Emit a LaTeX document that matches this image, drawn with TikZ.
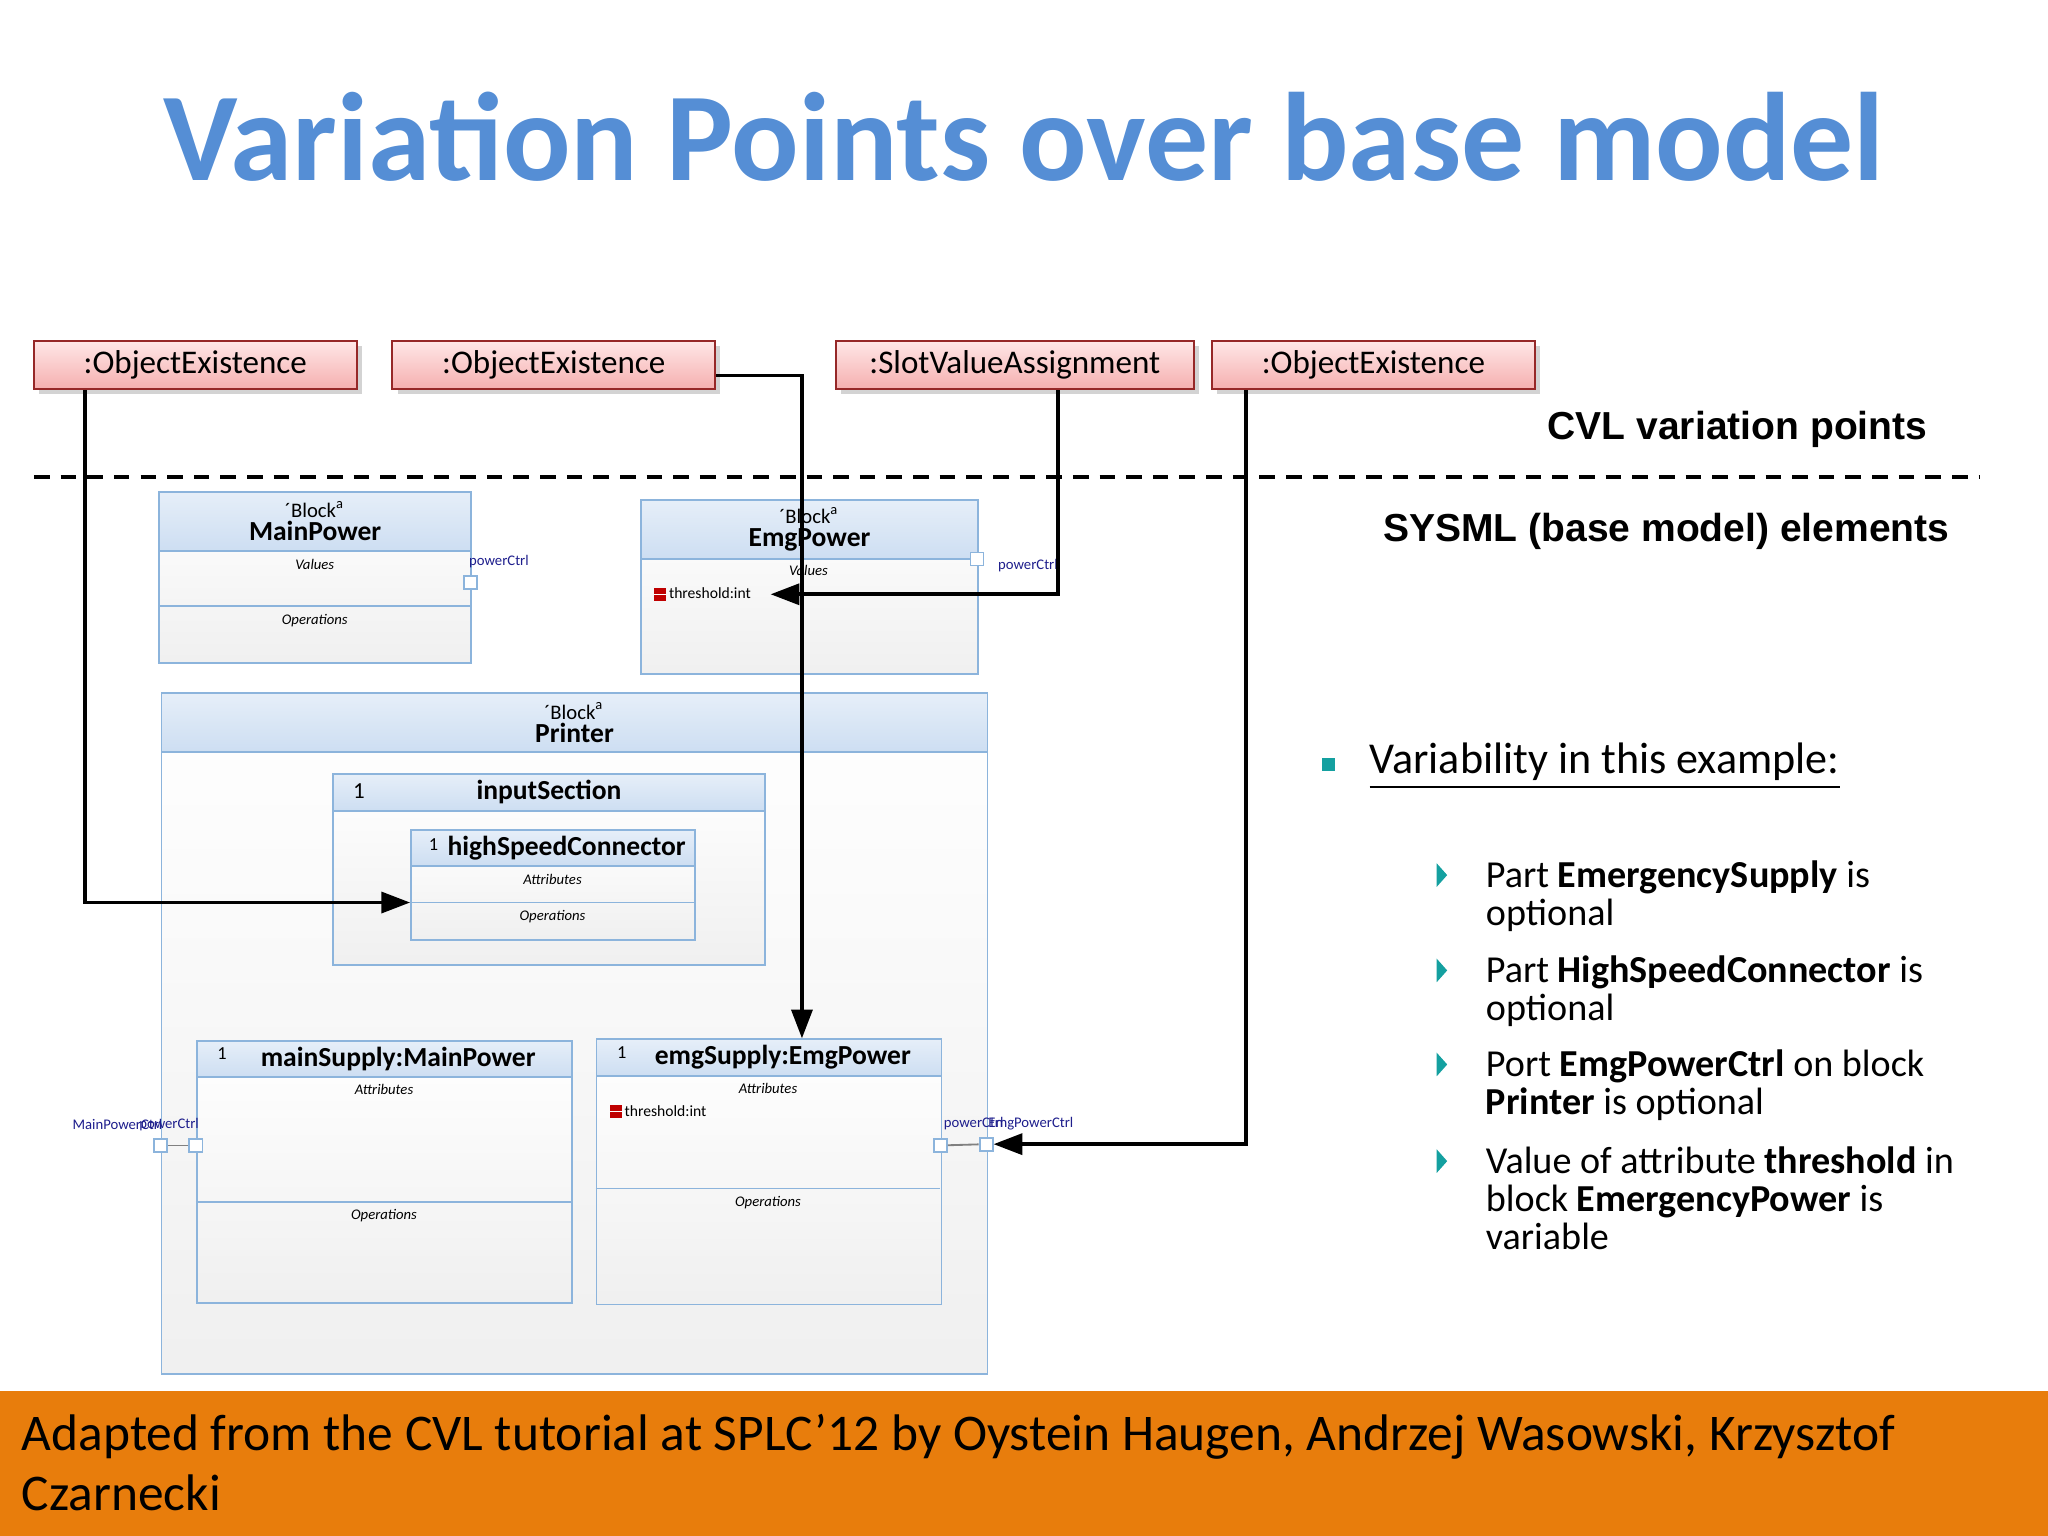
\documentclass[tikz,border=0pt]{standalone}
\usepackage{fontspec}
\setmainfont{Carlito}
\newfontfamily\arialf{Liberation Sans}
\usetikzlibrary{positioning,arrows.meta,calc,shadows}
\definecolor{vpTitle}{RGB}{85,142,213}
\definecolor{vpPink}{RGB}{255,215,215}
\definecolor{vpPinkD}{RGB}{245,175,175}
\definecolor{vpRedLine}{RGB}{150,40,40}
\definecolor{vpBlue}{RGB}{140,180,220}
\definecolor{vpHead}{RGB}{205,222,242}
\definecolor{vpPort}{RGB}{30,30,140}
\definecolor{vpOrange}{RGB}{232,125,12}
\definecolor{vpTeal}{RGB}{20,160,160}
\tikzset{
    fs/.style={font=\fontsize{#1}{#1}\selectfont},
    vpoint/.style={rectangle, draw=vpRedLine, top color=vpPink!60, bottom color=vpPinkD,
                   minimum width=2.47cm, minimum height=0.37cm, inner sep=0pt, fs=7.2,
                   drop shadow={opacity=0.35, shadow xshift=0.4mm, shadow yshift=-0.4mm}},
    blk/.style={rectangle, draw=vpBlue, top color=white, bottom color=black!6,
                anchor=north west, inner sep=0pt},
    hdr/.style={rectangle, draw=vpBlue, top color=vpHead!50, bottom color=vpHead,
                anchor=north west, inner sep=0pt, align=center, font=\fontsize{5}{5.5}\selectfont},
    port/.style={rectangle, draw=vpBlue, fill=white, minimum size=0.1cm, inner sep=0pt},
    comp/.style={font=\fontsize{3.2}{4}\selectfont\itshape},
    plabel/.style={fs=3.2, text=vpPort, inner sep=0pt},
    link/.style={-{Triangle[length=2.2mm,width=1.6mm]}, thick, black},
    sub/.style={font=\fontsize{8.3}{8.3}\selectfont, anchor=north west,
                align=left, inner sep=0pt},
    head/.style={font=\fontsize{8.5}{9}\selectfont\arialf\bfseries, anchor=east}
}
\newcommand{\vpattr}[1]{\tikz[baseline=-0.2mm]{\fill[red!75!black] (0,-0.35mm) rectangle (0.9mm,0.65mm);
  \draw[white, line width=0.15pt] (0,0.15mm) -- (0.9mm,0.15mm);}\,#1}
\newcommand{\vpblock}[1]{{\fontsize{4.5}{5}\selectfont\char"00B4 Block\textsuperscript{a}}\\[-0.5pt]{\fontsize{6}{7}\selectfont\bfseries #1}}
\begin{document}
\begin{tikzpicture}[x=0.01cm,y=-0.01cm]
  \useasboundingbox (0,0) rectangle (1568,1176);
  % title
  \node[font=\fontsize{27.4}{28}\selectfont\bfseries, text=vpTitle] (title) at (784,105) {Variation Points over base model};

  % CVL variation points
  \node[vpoint] (oe1) at (149.5,279.5) {:ObjectExistence};
  \node[vpoint] (oe2) at (424,279.5) {:ObjectExistence};
  \node[vpoint, minimum width=2.74cm] (sva) at (777,279.5) {:SlotValueAssignment};
  \node[vpoint] (oe3) at (1051.5,279.5) {:ObjectExistence};
  \node[head] (cvl) at (1488,329) {CVL variation points};
  \draw[thick, dash pattern=on 3.4pt off 2.4pt] (26,365) -- (1515,365);
  \node[head] (sysml) at (1505,407) {SYSML (base model) elements};

  % block MainPower
  \node[blk, minimum width=2.39cm, minimum height=1.31cm] (mp) at (121,376) {};
  \node[hdr, minimum width=2.39cm, minimum height=0.45cm] (mpH) at (121,376) {\vpblock{MainPower}};
  \draw[vpBlue] (121,464) -- (360,464);
  \node[comp] at (241,432) {Values};
  \node[comp] at (241,475) {Operations};
  \node[port] (mpP) at (360,446) {};
  \node[plabel] at (382,430) {powerCtrl};

  % block EmgPower
  \node[blk, minimum width=2.58cm, minimum height=1.33cm] (ep) at (490,382) {};
  \node[hdr, minimum width=2.58cm, minimum height=0.45cm] (epH) at (490,382) {\vpblock{EmgPower}};
  \node[comp] at (619,437) {Values};
  \node[fs=3.4, anchor=west, inner sep=0pt] (epT) at (500,455) {\vpattr{threshold:int}};
  \node[port] (epP) at (748,428) {};
  \node[plabel] at (787,433) {powerCtrl};

  % block Printer
  \node[blk, minimum width=6.32cm, minimum height=5.21cm] (pr) at (123,530) {};
  \node[hdr, minimum width=6.32cm, minimum height=0.45cm] (prH) at (123,530) {\vpblock{Printer}};

  % part inputSection
  \node[blk, minimum width=3.31cm, minimum height=1.46cm] (is) at (254,592) {};
  \node[hdr, minimum width=3.31cm, minimum height=0.28cm] (isH) at (254,592)
       {\fontsize{6}{7}\selectfont\bfseries inputSection};
  \node[fs=5, anchor=west] at (258,606) {1};

  % part highSpeedConnector
  \node[blk, minimum width=2.17cm, minimum height=0.84cm] (hs) at (314,635) {};
  \node[hdr, minimum width=2.17cm, minimum height=0.27cm] (hsH) at (314,635)
       {\hspace{6pt}\fontsize{6}{7}\selectfont\bfseries highSpeedConnector};
  \node[fs=4, anchor=west] at (316,647) {1};
  \draw[vpBlue] (314,691) -- (531,691);
  \node[comp] at (423,673) {Attributes};
  \node[comp] at (423,702) {Operations};

  % part mainSupply
  \node[blk, minimum width=2.87cm, minimum height=2.01cm] (ms) at (150,796) {};
  \node[hdr, minimum width=2.87cm, minimum height=0.28cm] (msH) at (150,796)
       {\hspace{6pt}\fontsize{6}{7}\selectfont\bfseries mainSupply:MainPower};
  \node[fs=4, anchor=west] at (154,807) {1};
  \draw[vpBlue] (150,920) -- (437,920);
  \node[comp] at (294,834) {Attributes};
  \node[comp] at (294,931) {Operations};
  \node[port] (msO) at (123,877) {};
  \node[port] (msI) at (150,877) {};
  \draw[black!50] (msO) -- (msI);
  \node[plabel, anchor=east] at (125,861) {MainPowerCtrl};
  \node[plabel, anchor=west] at (106,861) {powerCtrl};

  % part emgSupply
  \node[blk, minimum width=2.64cm, minimum height=2.03cm] (es) at (456,795) {};
  \node[hdr, minimum width=2.64cm, minimum height=0.28cm] (esH) at (456,795)
       {\hspace{6pt}\fontsize{6}{7}\selectfont\bfseries emgSupply:EmgPower};
  \node[fs=4, anchor=west] at (460,806) {1};
  \draw[vpBlue] (456,910) -- (720,910);
  \node[comp] at (588,833) {Attributes};
  \node[comp] at (588,921) {Operations};
  \node[fs=3.4, anchor=west, inner sep=0pt] at (466,851) {\vpattr{threshold:int}};
  \node[port] (esI) at (720,877) {};
  \node[port] (esO) at (755,876) {};
  \draw[black!50] (esI) -- (esO);
  \node[plabel, anchor=west] at (722,860) {powerCtrl};
  \node[plabel, anchor=west] at (756,860) {EmgPowerCtrl};

  % variation point links
  \draw[link] (oe1.south -| 65,0) |- (hs.west |- 0,691);
  \draw[link] ([yshift=-0.08cm]oe2.east) -| (es.north -| 614,0);
  \draw[link] (sva.south -| 810,0) |- (epT.east -| 590,0);
  \draw[link] (oe3.south -| 954,0) |- (esO.east);

  % variability list
  \fill[vpTeal] (1012,580) rectangle (1022,590);
  \node[font=\fontsize{9.6}{10}\selectfont, anchor=west, inner sep=0pt] (var) at (1048,587) {\underline{Variability in this example:}};
  \foreach \y in {670,743,815,889} {
    \fill[vpTeal] (1100,\y-9) -- (1108,\y) -- (1100,\y+9) -- cycle;
  }
  \node[sub] at (1137,658) {Part \textbf{EmergencySupply} is\\optional};
  \node[sub] at (1137,731) {Part \textbf{HighSpeedConnector} is\\optional};
  \node[sub] at (1137,803) {Port \textbf{EmgPowerCtrl} on block\\\textbf{Printer} is optional};
  \node[sub] at (1137,877) {Value of attribute \textbf{threshold} in\\block \textbf{EmergencyPower} is\\variable};

  % footer
  \fill[vpOrange] (0,1065) rectangle (1568,1176);
  \node[font=\fontsize{11.2}{13}\selectfont, anchor=north west, align=left, inner sep=0pt] (foot) at (16,1082)
       {Adapted from the CVL tutorial at SPLC'12 by Oystein Haugen, Andrzej Wasowski, Krzysztof\\Czarnecki};
\end{tikzpicture}
\end{document}
